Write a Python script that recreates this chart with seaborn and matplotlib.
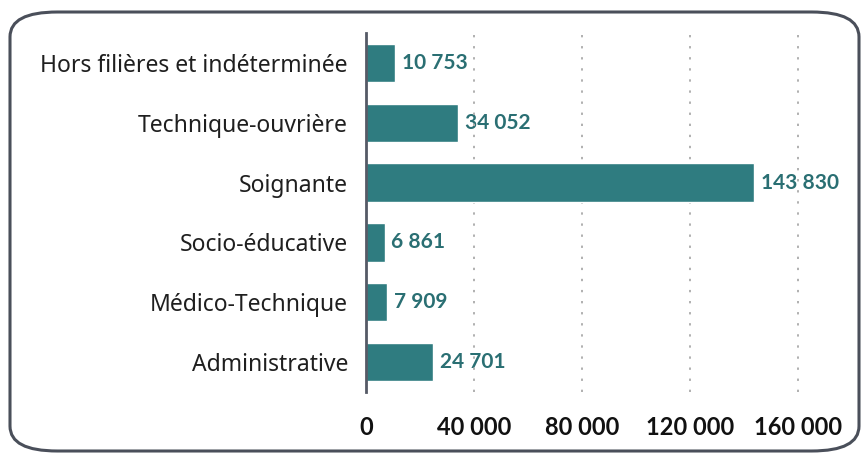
import matplotlib
matplotlib.use("Agg")
import matplotlib.pyplot as plt
import matplotlib.ticker as mticker
from matplotlib.patches import FancyBboxPatch
import pandas as pd
import seaborn as sns

CATEGORIES = [
    "Hors filières et indéterminée",
    "Technique-ouvrière",
    "Soignante",
    "Socio-éducative",
    "Médico-Technique",
    "Administrative",
]
VALUES = [10753, 34052, 143830, 6861, 7909, 24701]
XTICKS = [0, 40000, 80000, 120000, 160000]

BAR_COLOR = "#2f7c80"
LABEL_COLOR = "#2a6f73"
TEXT_COLOR = "#1f1f1f"

sns.set_theme(style="white")
plt.rcParams["font.family"] = ["Noto Sans", "DejaVu Sans"]

df = pd.DataFrame({"Filière": CATEGORIES, "Effectif": VALUES})


def fmt(v):
    return f"{v:,.0f}".replace(",", " ")


fig = plt.figure(figsize=(8.62, 4.53), dpi=100)

# cadre arrondi autour du graphique
W, H = 862, 453
box = FancyBboxPatch(
    (10 / W, 1 - 451 / H), 849 / W, 439 / H,
    boxstyle="round,pad=0,rounding_size=0.055",
    transform=fig.transFigure, fill=False,
    edgecolor="#4a4f5a", linewidth=2.2, mutation_aspect=H / W * 1.9,
)
fig.patches.append(box)

ax = fig.add_axes([366 / W, 1 - 392 / H, 482 / W, 359 / H])

sns.barplot(data=df, x="Effectif", y="Filière", color=BAR_COLOR, width=0.64,
            saturation=1, ax=ax, zorder=2)

ax.set_xlim(0, 178500)
ax.set_xticks(XTICKS)
ax.xaxis.set_major_formatter(mticker.FuncFormatter(lambda x, _: fmt(x)))
ax.set_xlabel("")
ax.set_ylabel("")
ax.tick_params(axis="x", length=0, pad=17, labelsize=17, labelcolor="#111111")
ax.tick_params(axis="y", length=0, pad=13, labelsize=16.5, labelcolor=TEXT_COLOR)
for lbl in ax.get_xticklabels():
    lbl.set_family(["Lato", "DejaVu Sans"])
    lbl.set_fontweight("bold")

for s in ["top", "right", "bottom"]:
    ax.spines[s].set_visible(False)
ax.spines["left"].set_color("#555a66")
ax.spines["left"].set_linewidth(2)
ax.spines["left"].set_zorder(3)

for x in XTICKS[1:]:
    ax.axvline(x, color="#b0b0b0", linestyle=(0, (1.2, 4.5)), linewidth=1.4, zorder=1.5)

for bar, v in zip(ax.patches, VALUES):
    ax.annotate(
        fmt(v),
        (bar.get_width(), bar.get_y() + bar.get_height() / 2),
        xytext=(5, 0), textcoords="offset points",
        ha="left", va="center", fontsize=15, fontweight="bold",
        family=["Lato", "DejaVu Sans"],
        color=LABEL_COLOR, zorder=1,
    )

fig.savefig("out.png", dpi=100)
